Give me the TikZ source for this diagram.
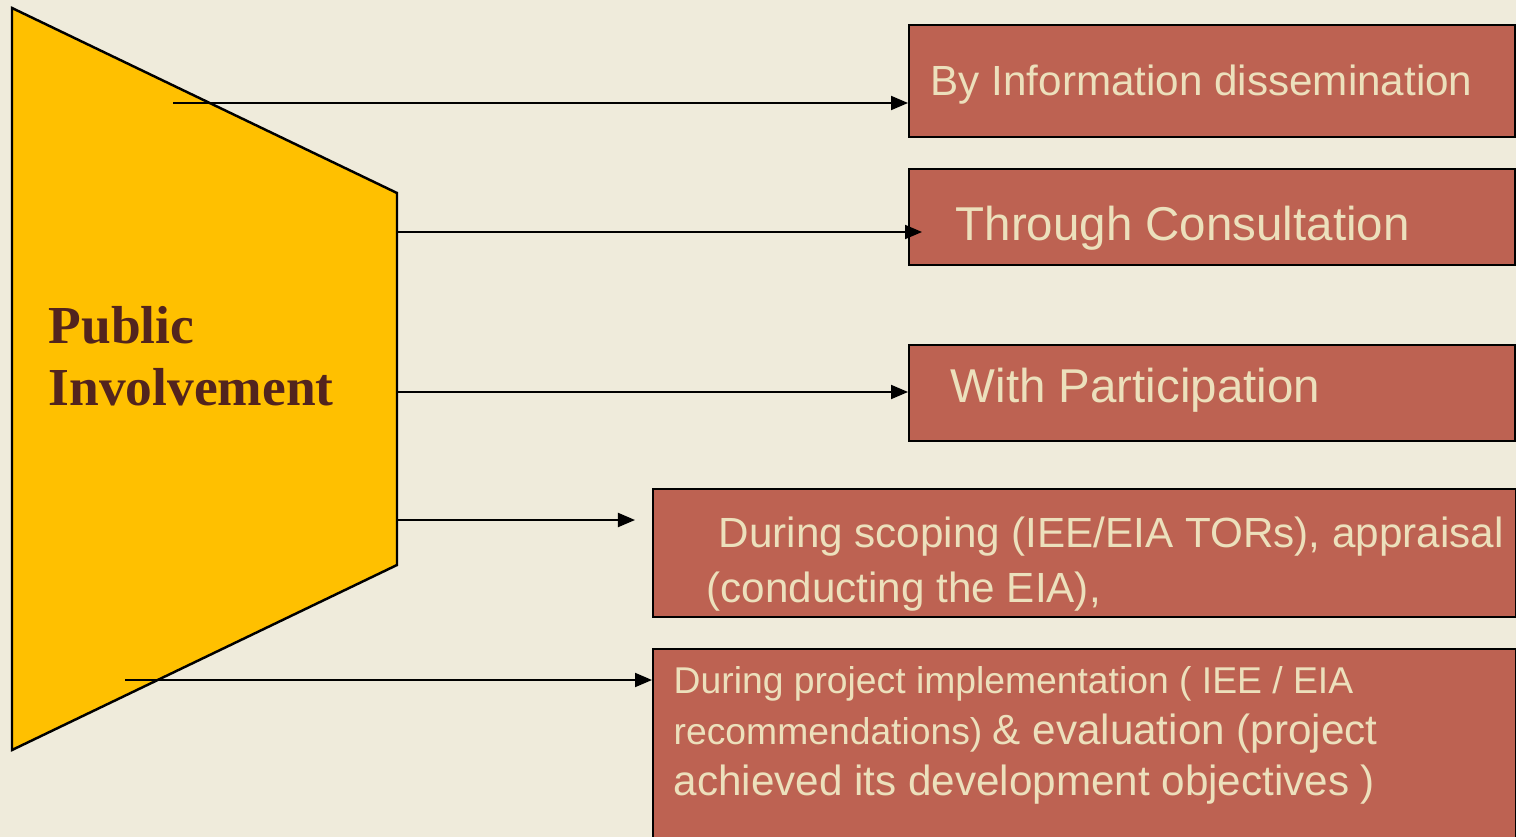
\documentclass[tikz,border=0pt]{standalone}
\usepackage{fontspec}
\setmainfont{Liberation Sans}
\newfontfamily\headfont{Liberation Serif}
\usetikzlibrary{arrows.meta}
\definecolor{parchment}{RGB}{239, 235, 219}
\definecolor{amber}{RGB}{255, 192, 0}
\definecolor{brick}{RGB}{189, 98, 82}
\definecolor{cream}{RGB}{236, 224, 188}
\definecolor{cocoa}{RGB}{82, 36, 30}

\tikzset{
  box/.style={draw=black, line width=0.6pt, fill=brick, anchor=north west, inner sep=0pt},
  boxtext/.style={text=cream, anchor=base west, inner sep=0pt, align=left},
  link/.style={-{Triangle[length=0.17cm, width=0.14cm]}, line width=0.55pt},
}

\begin{document}
\begin{tikzpicture}[x=0.01cm, y=-0.01cm]
        \fill[parchment] (0,0) rectangle (1516,837);
        \useasboundingbox (0,0) rectangle (1516,837);
        % funnel
        \coordinate (tl) at ( 12,  8);
        \coordinate (tr) at (397,193);
        \coordinate (br) at (397,565);
        \coordinate (bl) at ( 12,750);
        \filldraw[fill=amber, draw=black, line width=0.7pt] (tl) -- (tr) -- (br) -- (bl) -- cycle;
        % base anchor of a multi-line node sits on its last line
        \node[text=cocoa, anchor=base west, inner sep=0pt, align=left,
              font=\headfont\bfseries\fontsize{15.2}{17.6}\selectfont] (topic) at (48,405) {Public\\Involvement};
        % boxes on the right
        \node[box, minimum width=6.06cm, minimum height=1.12cm] (b1) at (908, 24) {};
        \node[box, minimum width=6.06cm, minimum height=0.96cm] (b2) at (908,168) {};
        \node[box, minimum width=6.06cm, minimum height=0.96cm] (b3) at (908,344) {};
        \node[box, minimum width=8.62cm, minimum height=1.28cm] (b4) at (652,488) {};
        \node[box, minimum width=8.62cm, minimum height=2.00cm] (b5) at (652,648) {};
        \node[boxtext, font=\fontsize{12}{14}\selectfont]     (t1) at (930, 96) {By Information dissemination};
        \node[boxtext, font=\fontsize{13.5}{16}\selectfont]   (t2) at (955,241) {Through Consultation};
        \node[boxtext, font=\fontsize{13.5}{16}\selectfont]   (t3) at (950,402) {With Participation};
        \node[boxtext, font=\fontsize{12}{15.6}\selectfont]   (t4) at (706,602)
             {\hspace{0.12cm}During scoping (IEE/EIA TORs), appraisal\\(conducting the EIA),};
        \node[boxtext, font=\fontsize{10.6}{14.5}\selectfont] (t5) at (673,795)
             {During project implementation ( IEE / EIA\\
              recommendations) {\fontsize{12}{14.5}\selectfont \& evaluation (project}\\
              {\fontsize{12}{14.5}\selectfont achieved its development objectives )}};
        % arrows
        \coordinate (s1) at (173,103);
        \coordinate (s2) at (397,232);
        \coordinate (s3) at (397,392);
        \coordinate (s4) at (397,520);
        \coordinate (s5) at (125,680);
        \draw[link]                      (s1) -- (s1 -| b1.west);
        \draw[link, shorten >=-0.14cm]   (s2) -- (s2 -| b2.west);
        \draw[link]                      (s3) -- (s3 -| b3.west);
        \draw[link, shorten >=0.17cm]    (s4) -- (s4 -| b4.west);
        \draw[link]                      (s5) -- (s5 -| b5.west);
\end{tikzpicture}
\end{document}
